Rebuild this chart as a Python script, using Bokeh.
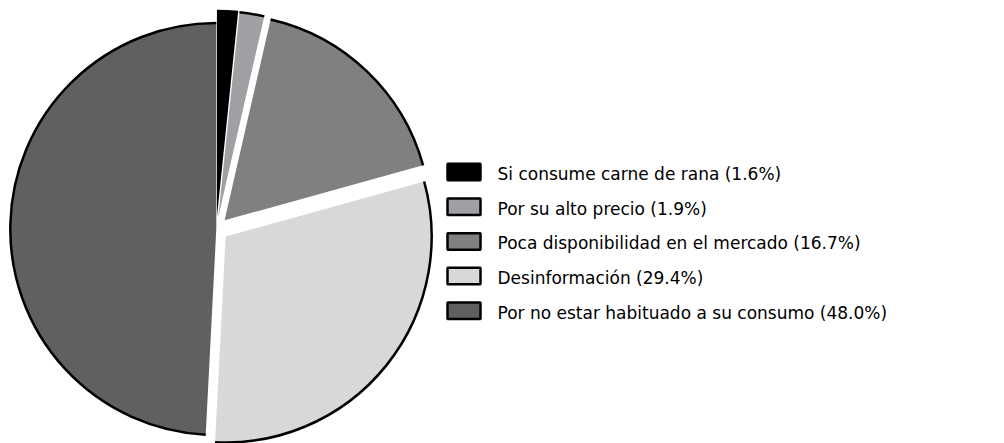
import numpy as np
from bokeh.plotting import figure
from bokeh.models import Range1d, ColumnDataSource
from bokeh.core.properties import value
from bokeh.embed import file_html
from bokeh.resources import INLINE

# ---- data ----
categories = [
    "Si consume carne de rana",
    "Por su alto precio",
    "Poca disponibilidad en el mercado",
    "Desinformación",
    "Por no estar habituado a su consumo",
]
percentages = [1.6, 1.9, 16.7, 29.4, 48.0]

# ---- styles ----
colors = ["#000000", "#A0A0A4", "#808080", "#D8D8D8", "#606060"]
explode = [12, 12, 12, 12, 0]

W, H = 1004, 443
p = figure(width=W, height=H, x_range=Range1d(0, W), y_range=Range1d(0, H),
           x_axis_type=None, y_axis_type=None, toolbar_location=None,
           output_backend="svg", min_border=0, outline_line_color=None,
           background_fill_color="white", border_fill_color="white")

vals = np.array(percentages, dtype=float)
frac = vals / vals.sum()
ends = np.cumsum(frac) * 2 * np.pi          # clockwise from 12 o'clock
starts = ends - frac * 2 * np.pi
mids = (starts + ends) / 2

cx, cy = 215.8, H - 228.5
R = 206
xs = cx + np.array(explode) * np.sin(mids)
ys = cy + np.array(explode) * np.cos(mids)

src = ColumnDataSource(dict(
    x=xs, y=ys,
    start=np.pi / 2 - starts, end=np.pi / 2 - ends,
    color=colors,
))
p.wedge(x="x", y="y", radius=R, start_angle="start", end_angle="end",
        direction="clock", fill_color="color", line_color=None, source=src)
p.arc(x="x", y="y", radius=R, start_angle="start", end_angle="end",
      direction="clock", line_color="black", line_width=2.5, source=src)

# ---- legend ----
n = len(categories)
row = np.arange(n)
box_y = H - (171.5 + row * 34.7)
txt_y = H - (173.5 + row * 34.7)
labels = [f"{c} ({v:.1f}%)" for c, v in zip(categories, percentages)]
lsrc = ColumnDataSource(dict(bx=[463.5] * n, by=box_y, tx=[497] * n, ty=txt_y,
                             color=colors, label=labels))
p.rect(x="bx", y="by", width=33, height=16.5, fill_color="color",
       line_color="black", line_width=2.5, source=lsrc)
p.text(x="tx", y="ty", text="label", text_font=value("DejaVu Sans"),
       text_font_size="17px", text_color="black", text_baseline="middle",
       text_align="left", source=lsrc)

open("out.html", "w").write(file_html(p, INLINE))
